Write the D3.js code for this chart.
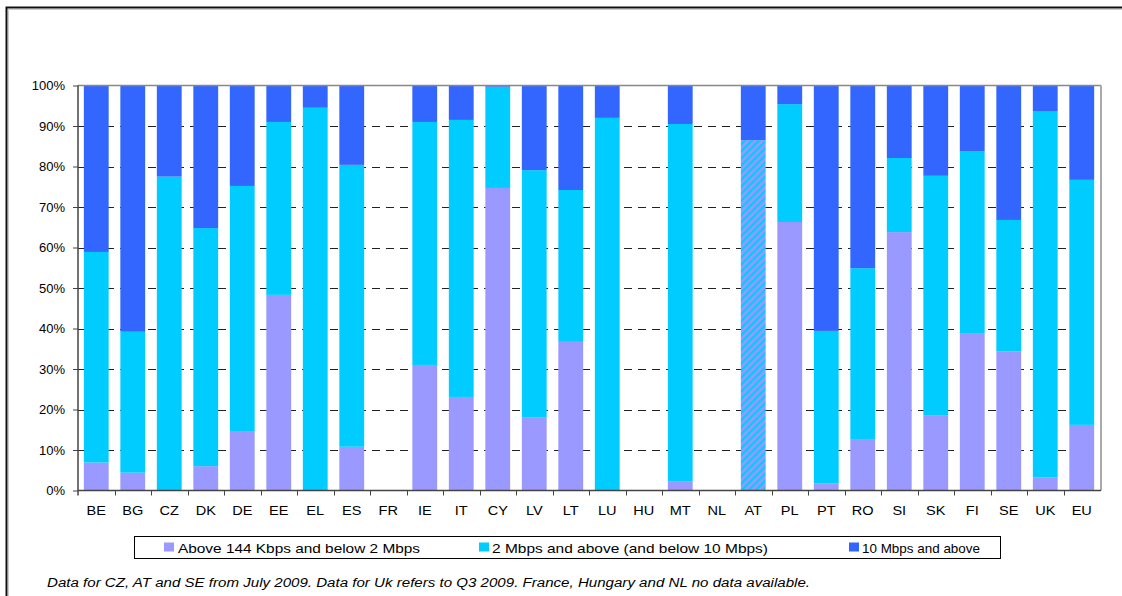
<!DOCTYPE html>
<html lang="en">
<head>
<meta charset="UTF-8">
<title>Broadband speeds</title>
<style>
  body { margin: 0; background: #fff; }
  text { font-family: "Liberation Sans", Arial, sans-serif; fill: #000; }
</style>
</head>
<body>
<script src="https://cdn.jsdelivr.net/npm/d3@7/dist/d3.min.js"></script>
<script>
// categories and values (% of lines)
var countries = ['BE','BG','CZ','DK','DE','EE','EL','ES','FR','IE','IT','CY','LV','LT','LU','HU','MT','NL','AT','PL','PT','RO','SI','SK','FI','SE','UK','EU'];
var low   = [6.9, 4.4, 0, 6.0, 14.5, 48.3, 0, 10.8, 0, 31.0, 23.1, 74.7, 18.1, 36.7, 0, 0, 2.3, 0, 0, 66.3, 1.7, 12.7, 63.8, 18.6, 38.7, 34.3, 3.2, 16.2];
var mid   = [52.0, 34.8, 77.5, 58.8, 60.7, 42.7, 94.5, 69.6, 0, 60.0, 68.4, 25.0, 61.0, 37.5, 92.0, 0, 88.2, 0, 0, 29.1, 37.7, 42.2, 18.3, 59.1, 45.1, 32.5, 90.5, 60.5];
// AT: below 10 Mbps not split in the source (hatched)
var undivided = [0,0,0,0,0,0,0,0,0,0,0,0,0,0,0,0,0,0,86.5,0,0,0,0,0,0,0,0,0];
var high  = [41.1, 60.8, 22.5, 35.2, 24.8, 9.0, 5.5, 19.6, 0, 9.0, 8.5, 0.3, 20.9, 25.8, 8.0, 0, 9.5, 0, 13.5, 4.6, 60.6, 45.1, 17.9, 22.3, 16.2, 33.2, 6.3, 23.3];
var yTicks = [0, 0.1, 0.2, 0.3, 0.4, 0.5, 0.6, 0.7, 0.8, 0.9, 1];
var legendLabels = ['Above 144 Kbps and below 2 Mbps', '2 Mbps and above (and below 10 Mbps)', '10 Mbps and above'];
var footnote = 'Data for CZ, AT and SE from July 2009. Data for Uk refers to Q3 2009. France, Hungary and NL no data available.';

var colors = { low: '#9999ff', mid: '#00ccff', undivided: 'url(#hatch)', high: '#3366ff' };

var W = 1122, H = 596;
var svg = d3.select('body').append('svg').attr('width', W).attr('height', H).style('display', 'block');

// hatch pattern for AT
var pat = svg.append('defs').append('pattern')
    .attr('id', 'hatch').attr('patternUnits', 'userSpaceOnUse')
    .attr('width', 5).attr('height', 5).attr('patternTransform', 'rotate(45)');
pat.append('rect').attr('width', 5).attr('height', 5).attr('fill', colors.low);
pat.append('rect').attr('width', 2.2).attr('height', 5).attr('fill', colors.mid);

// outer frame
svg.append('path').attr('d', 'M6.5,' + (H + 5) + 'V7.5H' + (W + 5))
    .attr('fill', 'none').attr('stroke', '#111').attr('stroke-width', 2);
svg.append('path').attr('d', 'M8.5,' + (H + 5) + 'V9.5H' + (W + 5))
    .attr('fill', 'none').attr('stroke', '#ccc').attr('stroke-width', 1);

var plotLeft = 78, plotRight = 1100, plotTop = 85.5, plotBottom = 490.5;

var x = d3.scaleBand().domain(countries).range([plotLeft, plotRight]).paddingInner(0.32).paddingOuter(0.16);
var y = d3.scaleLinear().domain([0, 1]).range([plotBottom, plotTop]);

// gridlines
svg.append('g').selectAll('line').data(yTicks.filter(function (d) { return d > 0 && d < 1; }))
    .join('line')
    .attr('x1', plotLeft).attr('x2', plotRight)
    .attr('y1', function (d) { return Math.round(y(d)) + 0.5; })
    .attr('y2', function (d) { return Math.round(y(d)) + 0.5; })
    .attr('stroke', '#222').attr('stroke-dasharray', '8,6');

// stacked bars
var rows = countries.map(function (c, i) {
    return { c: c, low: low[i] / 100, mid: mid[i] / 100, undivided: undivided[i] / 100, high: high[i] / 100 };
});
var keys = ['low', 'mid', 'undivided', 'high'];
var stacked = d3.stack().keys(keys)(rows);

svg.append('g').selectAll('g').data(stacked).join('g')
    .attr('fill', function (d) { return colors[d.key]; })
    .selectAll('rect').data(function (d) { return d.filter(function (p) { return p[1] - p[0] > 0; }); })
    .join('rect')
    .attr('x', function (d) { return x(d.data.c); })
    .attr('width', x.bandwidth())
    .attr('y', function (d) { return y(d[1]); })
    .attr('height', function (d) { return y(d[0]) - y(d[1]); });

// top and right plot border
svg.append('line').attr('x1', plotLeft).attr('x2', plotRight + 1).attr('y1', plotTop).attr('y2', plotTop)
    .attr('stroke', '#888').attr('stroke-width', 1.5);
svg.append('line').attr('x1', plotRight + 1).attr('x2', plotRight + 1).attr('y1', plotTop).attr('y2', plotBottom)
    .attr('stroke', '#aaa').attr('stroke-width', 2);

// y axis
var yAxis = svg.append('g').attr('transform', 'translate(' + plotLeft + ',0)')
    .call(d3.axisLeft(y).tickValues(yTicks).tickFormat(d3.format('.0%')).tickSize(5).tickPadding(8));
yAxis.select('.domain').attr('stroke', '#444').attr('stroke-width', 1.5).attr('d', 'M0,' + plotTop + 'V' + (plotBottom + 5));
yAxis.selectAll('.tick line').attr('stroke', '#444');
yAxis.selectAll('.tick text').attr('font-size', 13).attr('font-family', '"Liberation Sans", Arial, sans-serif').attr('fill', '#000');

// x axis line, ticks at band boundaries, labels
svg.append('line').attr('x1', plotLeft).attr('x2', plotRight + 1).attr('y1', plotBottom).attr('y2', plotBottom)
    .attr('stroke', '#444').attr('stroke-width', 1.5);
var half = x.step() * x.paddingInner() / 2;
svg.append('g').selectAll('line').data(countries.slice(1))
    .join('line')
    .attr('x1', function (d) { return Math.round(x(d) - half) + 0.5; })
    .attr('x2', function (d) { return Math.round(x(d) - half) + 0.5; })
    .attr('y1', plotBottom).attr('y2', plotBottom + 5)
    .attr('stroke', '#444');
svg.append('g').selectAll('text').data(countries)
    .join('text')
    .attr('transform', function (d) { return 'translate(' + (x(d) + x.bandwidth() / 2) + ',515) scale(1.12,1)'; })
    .attr('text-anchor', 'middle').attr('font-size', 13)
    .text(function (d) { return d; });

// legend
svg.append('rect').attr('x', 134.5).attr('y', 536.5).attr('width', 866).attr('height', 22)
    .attr('fill', '#fff').attr('stroke', '#000');
var legendPos = [{ sx: 164, tx: 178, w: 242 }, { sx: 479, tx: 492, w: 276 }, { sx: 849, tx: 862, w: 118 }];
var legendKeys = ['low', 'mid', 'high'];
var lg = svg.append('g').selectAll('g').data(legendKeys).join('g');
lg.append('rect')
    .attr('x', function (d, i) { return legendPos[i].sx; }).attr('y', 542.5)
    .attr('width', 10).attr('height', 9)
    .attr('fill', function (d) { return colors[d]; });
lg.append('text')
    .attr('x', function (d, i) { return legendPos[i].tx; }).attr('y', 552.5)
    .attr('font-size', 13)
    .attr('textLength', function (d, i) { return legendPos[i].w; })
    .attr('lengthAdjust', 'spacingAndGlyphs')
    .text(function (d, i) { return legendLabels[i]; });

// footnote
svg.append('text').attr('x', 47).attr('y', 587).attr('font-size', 12.5).attr('font-style', 'italic')
    .attr('textLength', 763).attr('lengthAdjust', 'spacingAndGlyphs')
    .text(footnote);
</script>
</body>
</html>
